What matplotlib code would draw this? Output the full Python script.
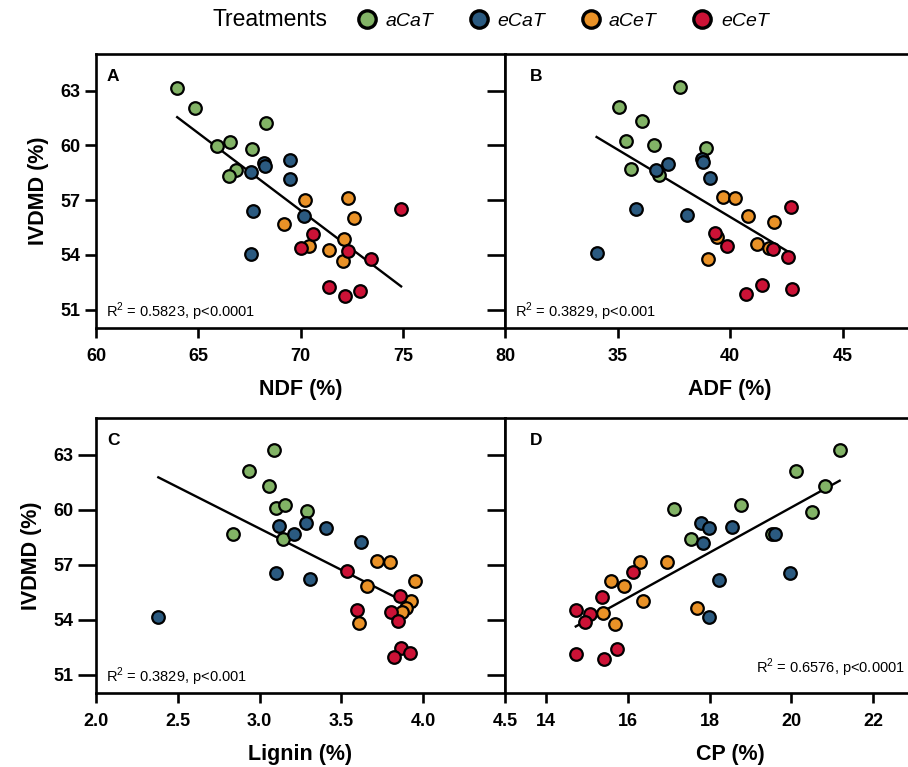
"""
IVDMD vs. fibre / protein fractions, four treatments, 2x2 panels.
"""
import matplotlib
matplotlib.use('Agg')
import matplotlib.pyplot as plt
from matplotlib.lines import Line2D
from matplotlib.ticker import FormatStrFormatter
import numpy as np

plt.rcParams['font.family'] = ['Liberation Sans', 'DejaVu Sans']

treatments = ['aCaT', 'eCaT', 'aCeT', 'eCeT']
colors = ['#82B366', '#2B5A80', '#EA9227', '#CC1236']
n_per = 8  # samples per treatment, listed in treatment order below

# panel A
ndf = [63.97, 64.84, 68.32, 65.93, 66.57, 67.63, 66.83, 66.49,
       67.58, 68.22, 68.27, 69.51, 69.49, 67.70, 70.15, 67.58,
       70.23, 72.32, 72.63, 69.17, 72.14, 70.41, 71.39, 72.06,
       74.92, 70.61, 70.02, 72.30, 73.46, 71.41, 72.19, 72.92]
ivdmd_ndf = [63.15, 62.03, 61.25, 59.97, 60.19, 59.82, 58.64, 58.31,
             58.55, 59.01, 58.86, 59.18, 58.13, 56.42, 56.11, 54.05,
             57.03, 57.10, 56.00, 55.72, 54.89, 54.49, 54.27, 53.66,
             56.53, 55.13, 54.36, 54.21, 53.77, 52.25, 51.77, 52.03]

# panel B
adf = [37.78, 35.07, 36.11, 35.37, 36.62, 38.93, 35.62, 36.85,
       36.73, 37.23, 38.75, 38.78, 39.09, 35.81, 38.10, 34.07,
       39.70, 40.21, 40.79, 41.97, 39.43, 41.20, 41.75, 39.03,
       42.73, 39.33, 39.87, 41.91, 42.56, 40.72, 41.41, 42.77]
ivdmd_adf = [63.22, 62.08, 61.31, 60.24, 60.02, 59.87, 58.68, 58.37,
             58.66, 58.96, 59.27, 59.08, 58.22, 56.51, 56.16, 54.12,
             57.15, 57.12, 56.11, 55.83, 54.97, 54.60, 54.36, 53.77,
             56.62, 55.22, 54.51, 54.32, 53.86, 51.88, 52.34, 52.12]

# panel C
lignin = [3.087, 2.937, 3.057, 3.103, 3.158, 3.287, 2.838, 3.146,
          3.117, 3.208, 3.283, 3.405, 3.617, 3.099, 3.306, 2.381,
          3.717, 3.796, 3.947, 3.658, 3.925, 3.897, 3.870, 3.607,
          3.534, 3.856, 3.595, 3.806, 3.846, 3.866, 3.822, 3.917]
ivdmd_lig = [63.24, 62.11, 61.31, 60.07, 60.25, 59.91, 58.69, 58.40,
             59.13, 58.67, 59.29, 59.00, 58.24, 56.55, 56.22, 54.16,
             57.20, 57.15, 56.13, 55.85, 55.04, 54.62, 54.40, 53.82,
             56.64, 55.27, 54.53, 54.40, 53.93, 52.44, 51.95, 52.16]

# panel D
cp = [21.18, 20.11, 20.83, 18.78, 17.13, 20.51, 17.55, 19.53,
      17.79, 17.98, 18.55, 19.61, 17.84, 18.24, 19.96, 17.99,
      16.30, 16.96, 15.58, 15.92, 16.37, 15.39, 15.69, 17.69,
      16.14, 15.38, 14.73, 15.08, 14.96, 14.73, 15.42, 15.73]
ivdmd_cp = [63.24, 62.12, 61.30, 60.26, 60.04, 59.90, 58.40, 58.68,
            59.26, 58.99, 59.08, 58.68, 58.20, 56.19, 56.54, 54.15,
            57.16, 57.12, 56.10, 55.85, 55.01, 54.39, 53.78, 54.61,
            56.61, 55.24, 54.51, 54.33, 53.88, 52.11, 51.87, 52.42]

stats_text = ['R$^2$ = 0.5823, p<0.0001', 'R$^2$ = 0.3829, p<0.001',
              'R$^2$ = 0.3829, p<0.001', 'R$^2$ = 0.6576, p<0.0001']
yticks = [51, 54, 57, 60, 63]

plt.rcParams['mathtext.fontset'] = 'custom'
plt.rcParams['mathtext.rm'] = 'Liberation Sans'

W, H = 908, 767
fig = plt.figure(figsize=(W / 100, H / 100), dpi=100)
fig.patch.set_facecolor('white')

# axes boxes from pixel positions; right column runs off the image edge
ax_a = fig.add_axes([96 / W, 1 - 328 / H, 409 / W, 274 / H])
ax_b = fig.add_axes([505 / W, 1 - 328 / H, 450 / W, 274 / H])
ax_c = fig.add_axes([96 / W, 1 - 693 / H, 409 / W, 275 / H])
ax_d = fig.add_axes([505 / W, 1 - 693 / H, 450 / W, 275 / H])

panels = [
    (ax_a, ndf, ivdmd_ndf, 'NDF (%)', (60, 80), [60, 65, 70, 75, 80], 'A'),
    (ax_b, adf, ivdmd_adf, 'ADF (%)', (30, 50), [35, 40, 45], 'B'),
    (ax_c, lignin, ivdmd_lig, 'Lignin (%)', (2.0, 4.5), [2.0, 2.5, 3.0, 3.5, 4.0, 4.5], 'C'),
    (ax_d, cp, ivdmd_cp, 'CP (%)', (13, 24), [14, 16, 18, 20, 22], 'D'),
]

for i, (ax, xs, ys, xlabel, xlim, xticks, letter) in enumerate(panels):
    xs = np.array(xs)
    ys = np.array(ys)
    for k, col in enumerate(colors):
        sl = slice(k * n_per, (k + 1) * n_per)
        ax.scatter(xs[sl], ys[sl], s=82, color=col, edgecolors='black',
                   linewidths=1.6, zorder=3 + k)

    # linear fit over the data range
    slope, icpt = np.polyfit(xs, ys, 1)
    fx = np.array([xs.min(), xs.max()])
    ax.plot(fx, slope * fx + icpt, color='black', lw=1.7, zorder=2)

    ax.set_xlim(*xlim)
    ax.set_ylim(50, 65)
    ax.set_xticks(xticks)
    ax.set_yticks(yticks)
    if letter == 'C':
        ax.xaxis.set_major_formatter(FormatStrFormatter('%.1f'))
    for sp in ax.spines.values():
        sp.set_linewidth(1.9)
    ax.tick_params(axis='x', direction='out', length=7.5, width=1.9,
                   labelsize=13, pad=7)
    ax.tick_params(axis='y', direction='out', length=8 if letter == 'A' else 13,
                   width=1.9, labelsize=13, pad=3.5)
    for lab in ax.get_xticklabels() + ax.get_yticklabels():
        lab.set_fontweight('bold')
    ax.set_xlabel(xlabel, fontsize=15.5, fontweight='bold', labelpad=10)

    if letter in ('A', 'C'):
        ax.set_ylabel('IVDMD (%)', fontsize=15.5, fontweight='bold', labelpad=8)
        lx = 0.027
    else:
        ax.tick_params(axis='y', labelleft=False)
        lx = 0.056
    ax.text(lx, 0.945, letter, transform=ax.transAxes, ha='left', va='top',
            fontsize=12.5, fontweight='bold')

    if letter == 'D':
        ax.text(0.889, 0.091, stats_text[i], transform=ax.transAxes,
                ha='right', va='center', fontsize=10.5)
    else:
        sx = 0.025 if letter in ('A', 'C') else 0.022
        ax.text(sx, 0.058, stats_text[i], transform=ax.transAxes,
                ha='left', va='center', fontsize=10.5)

# legend row
fig.text(270 / W, 1 - 20 / H, 'Treatments', ha='center', va='center', fontsize=16.5)
handles = [Line2D([], [], marker='o', ls='none', markersize=12.5,
                  markerfacecolor=c, markeredgecolor='black', markeredgewidth=2.4)
           for c in colors]
fig.legend(handles, treatments, loc='center left', bbox_to_anchor=(357 / W, 1 - 21 / H),
           ncol=4, frameon=False, prop={'style': 'italic', 'size': 14},
           handlelength=1.0, handletextpad=0.45, columnspacing=1.85,
           borderpad=0, borderaxespad=0)

fig.savefig('out.png', dpi=100, facecolor='white')
plt.close(fig)
